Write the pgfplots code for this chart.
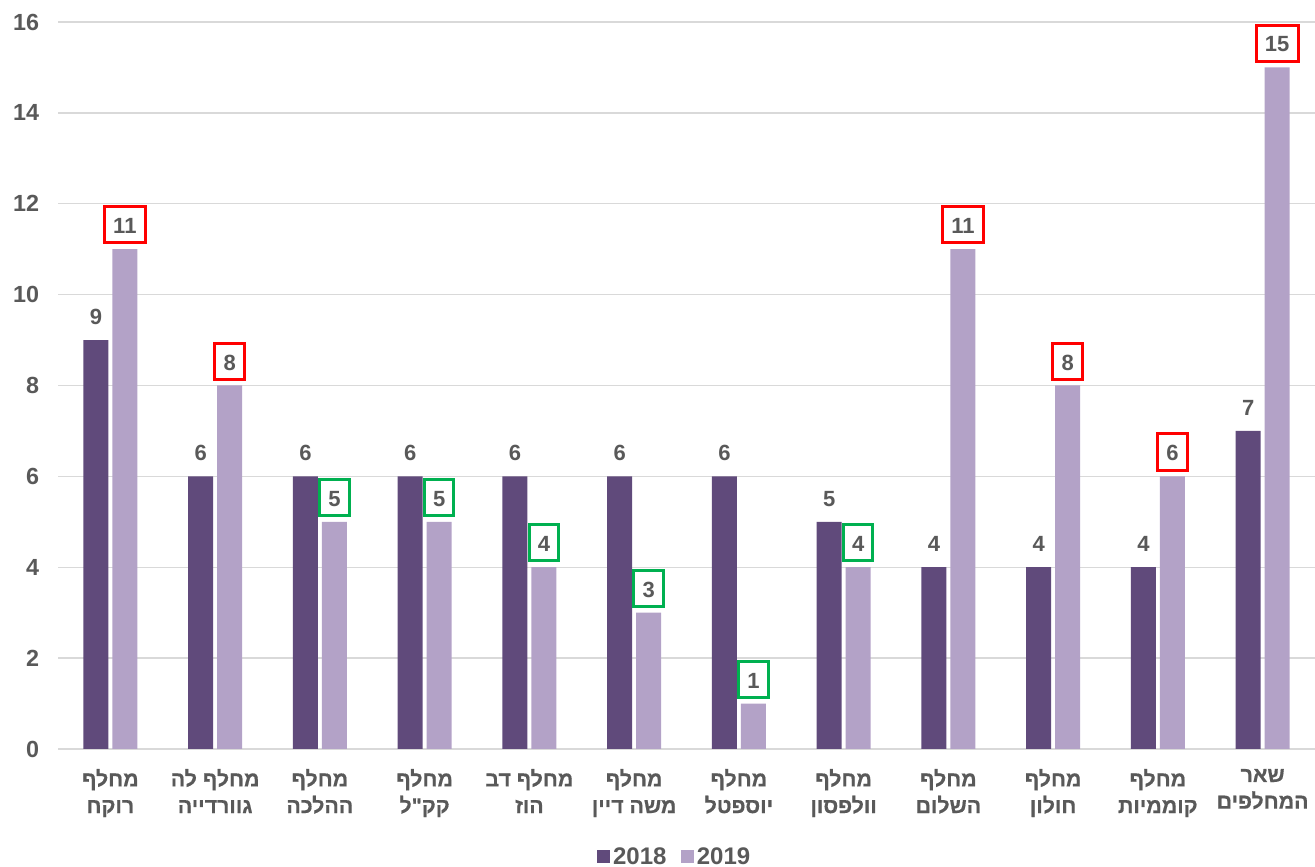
\documentclass[border=0pt]{standalone}
\usepackage{fontspec}
\setmainfont{Liberation Sans}
\newfontfamily\hebfont[Script=Hebrew, BoldFeatures={FakeBold=0.6}]{Liberation Sans}
\TeXXeTstate=1
\usepackage{pgfplots}
\usepackage{pgfplotstable}
\pgfplotsset{compat=1.18}

\definecolor{dark}{HTML}{604A7B}
\definecolor{light}{HTML}{B3A2C7}
\definecolor{txt}{HTML}{595959}
\definecolor{gridc}{HTML}{D9D9D9}
\definecolor{upc}{HTML}{FF0000}
\definecolor{dnc}{HTML}{00B050}

\pgfplotstableread{
x a  b
0 9  11
1 6  8
2 6  5
3 6  5
4 6  4
5 6  3
6 6  1
7 5  4
8 4  11
9 4  8
10 4 6
11 7 15
}\data

\pgfplotsset{boxlabel/.style={nodes near coords, draw=none, fill=none, forget plot,
    bar shift=10.875pt,
    every node near coord/.append style={draw=#1, line width=2.25pt,
      text height=16.7pt, text depth=3.4pt, inner xsep=6.5pt, inner ysep=3.5pt}}}

\begin{document}
\begin{tikzpicture}
\path[use as bounding box] (0,0) rectangle (986.25pt,650.25pt);
\begin{axis}[
  scale only axis,
  width=942.75pt, height=545.25pt,
  anchor=south west, at={(43.5pt,88.5pt)},
  ybar, bar width=18.75pt,
  xmin=-0.5, xmax=11.5,
  ymin=0, ymax=16,
  ytick={0,2,...,16},
  xtick={0,...,11},
  xticklabels={
    {\beginR מחלף\endR\\\beginR רוקח\endR},
    {\beginR מחלף לה\endR\\\beginR גוורדייה\endR},
    {\beginR מחלף\endR\\\beginR ההלכה\endR},
    {\beginR מחלף\endR\\\beginR קק"ל\endR},
    {\beginR מחלף דב\endR\\\beginR הוז\endR},
    {\beginR מחלף\endR\\\beginR משה דיין\endR},
    {\beginR מחלף\endR\\\beginR יוספטל\endR},
    {\beginR מחלף\endR\\\beginR וולפסון\endR},
    {\beginR מחלף\endR\\\beginR השלום\endR},
    {\beginR מחלף\endR\\\beginR חולון\endR},
    {\beginR מחלף\endR\\\beginR קוממיות\endR},
    {\beginR שאר\endR\\\beginR המחלפים\endR}},
  axis line style={draw=none},
  major tick length=0pt,
  ymajorgrids,
  grid style={gridc, line width=1.1pt},
  /pgf/number format/assume math mode=true,
  yticklabel style={text=txt, font=\bfseries\fontsize{17.5}{20}\selectfont, xshift=-10.7pt},
  xticklabel style={text=txt, font=\hebfont\bfseries\fontsize{16}{20}\selectfont,
    align=center, anchor=north, yshift=-11.5pt},
  every node near coord/.append style={anchor=base, yshift=11.6pt, text=txt,
    font=\bfseries\fontsize{16.5}{18}\selectfont},
  legend columns=2,
  legend style={draw=none, at={(0.491,-0.1486)}, anchor=center,
    font=\bfseries\fontsize{18}{20}\selectfont, text=txt,
    /tikz/every even column/.append style={column sep=9pt}},
  legend image code/.code={\fill[#1] (0pt,-4.6pt) rectangle (9.75pt,5.15pt);},
]
\addplot[fill=dark, draw=none, bar shift=-10.875pt, nodes near coords] table[x=x, y=a] {\data};
\addlegendentry{2018}
\addplot[fill=light, draw=none, bar shift=10.875pt] table[x=x, y=b] {\data};
\addlegendentry{2019}
% labels of 2019: red where it rose, green where it fell
\addplot[boxlabel=upc] coordinates {(0,11) (1,8) (8,11) (9,8) (10,6) (11,15)};
\addplot[boxlabel=dnc] coordinates {(2,5) (3,5) (4,4) (5,3) (6,1) (7,4)};
\end{axis}
\end{tikzpicture}
\end{document}
